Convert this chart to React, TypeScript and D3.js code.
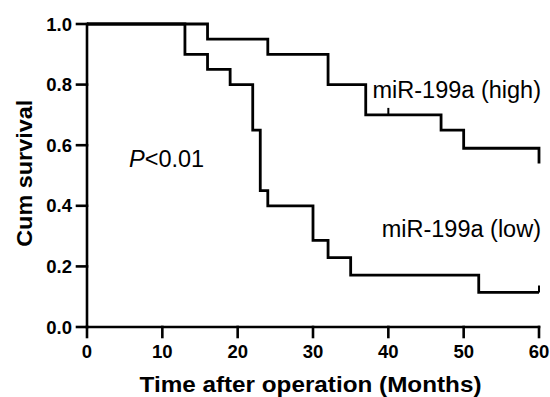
import * as d3 from "d3";

// ── Data ──────────────────────────────────────────────────────
const highTimes = [0, 16, 24, 32, 37, 47, 50, 60];
const highSurv  = [1, 0.95, 0.9, 0.8, 0.7, 0.65, 0.59, 0.54];
const highCensor = [40];

const lowTimes = [0, 13, 16, 19, 22, 23, 24, 30, 32, 35, 52];
const lowSurv  = [1, 0.9, 0.85, 0.8, 0.65, 0.45, 0.4, 0.286, 0.229, 0.171, 0.114];
const lowCensor = [60];

const xTicks = [0, 10, 20, 30, 40, 50, 60];
const yTicks = [0, 0.2, 0.4, 0.6, 0.8, 1.0];

const W = 550, H = 397;
const FONT = "'Liberation Sans', Arial, sans-serif";

const x = d3.scaleLinear().domain([0, 60]).range([87, 539]);
const y = d3.scaleLinear().domain([0, 1]).range([327, 24]);

const step = d3.line<[number, number]>()
  .x((d) => x(d[0]))
  .y((d) => y(d[1]))
  .curve(d3.curveStepAfter);

function curvePoints(times: number[], surv: number[]): [number, number][] {
  const pts: [number, number][] = times.map((t, i) => [t, surv[i]]);
  pts.push([60, surv[surv.length - 1]]);
  return pts;
}

// survival value at time t (step function)
function survAt(times: number[], surv: number[], t: number) {
  let v = surv[0];
  times.forEach((tt, i) => { if (tt <= t) v = surv[i]; });
  return v;
}

export default function App() {
  const sw = 2.8;
  return (
    <svg width={W} height={H} style={{ display: "block", position: "absolute", left: 0, top: 0 }}>
      <rect width={W} height={H} fill="#fff" />

      {/* axes */}
      <g stroke="#000" strokeWidth={2.6} fill="none" strokeLinecap="square">
        <line x1={x(0)} x2={x(0)} y1={y(1)} y2={y(0)} />
        <line x1={x(0)} x2={x(60)} y1={y(0)} y2={y(0)} />
        {yTicks.map((t) => (
          <line key={"yt" + t} x1={x(0) - 10} x2={x(0)} y1={y(t)} y2={y(t)} />
        ))}
        {xTicks.map((t) => (
          <line key={"xt" + t} x1={x(t)} x2={x(t)} y1={y(0)} y2={y(0) + 10} />
        ))}
      </g>

      {/* tick labels */}
      <g fontFamily={FONT} fontWeight="bold" fontSize={18.5} fill="#000">
        {yTicks.map((t) => (
          <text key={"yl" + t} x={72} y={y(t)} dy="0.36em" textAnchor="end">
            {t.toFixed(1)}
          </text>
        ))}
        {xTicks.map((t) => (
          <text key={"xl" + t} x={x(t)} y={357.5} textAnchor="middle">
            {t}
          </text>
        ))}
      </g>

      {/* axis titles */}
      <text x={310.5} y={392} textAnchor="middle" fontFamily={FONT} fontWeight="bold"
        fontSize={22} textLength={342} lengthAdjust="spacingAndGlyphs">
        Time after operation (Months)
      </text>
      <text transform="translate(31.5,173.3) rotate(-90)" textAnchor="middle" fontFamily={FONT}
        fontWeight="bold" fontSize={22} textLength={147} lengthAdjust="spacingAndGlyphs">
        Cum survival
      </text>

      {/* survival curves */}
      <g stroke="#000" strokeWidth={sw} fill="none" strokeLinejoin="miter" strokeLinecap="butt">
        <path d={step(curvePoints(highTimes, highSurv)) ?? ""} />
        <path d={step(curvePoints(lowTimes, lowSurv)) ?? ""} />
        {highCensor.map((t) => {
          const v = survAt(highTimes, highSurv, t);
          return <line key={"hc" + t} x1={x(t)} x2={x(t)} y1={y(v)} y2={y(v) - 7} strokeWidth={2} />;
        })}
        {lowCensor.map((t) => {
          const v = survAt(lowTimes, lowSurv, t);
          return <line key={"lc" + t} x1={x(t)} x2={x(t)} y1={y(v)} y2={y(v) - 7} strokeWidth={2} />;
        })}
      </g>

      {/* annotations */}
      <g fontFamily={FONT} fontSize={23.5} fill="#000">
        <text x={541} y={98} textAnchor="end">miR-199a (high)</text>
        <text x={541} y={236.7} textAnchor="end">miR-199a (low)</text>
        <text x={129} y={166.7}>
          <tspan fontStyle="italic">P</tspan>&lt;0.01
        </text>
      </g>
    </svg>
  );
}
